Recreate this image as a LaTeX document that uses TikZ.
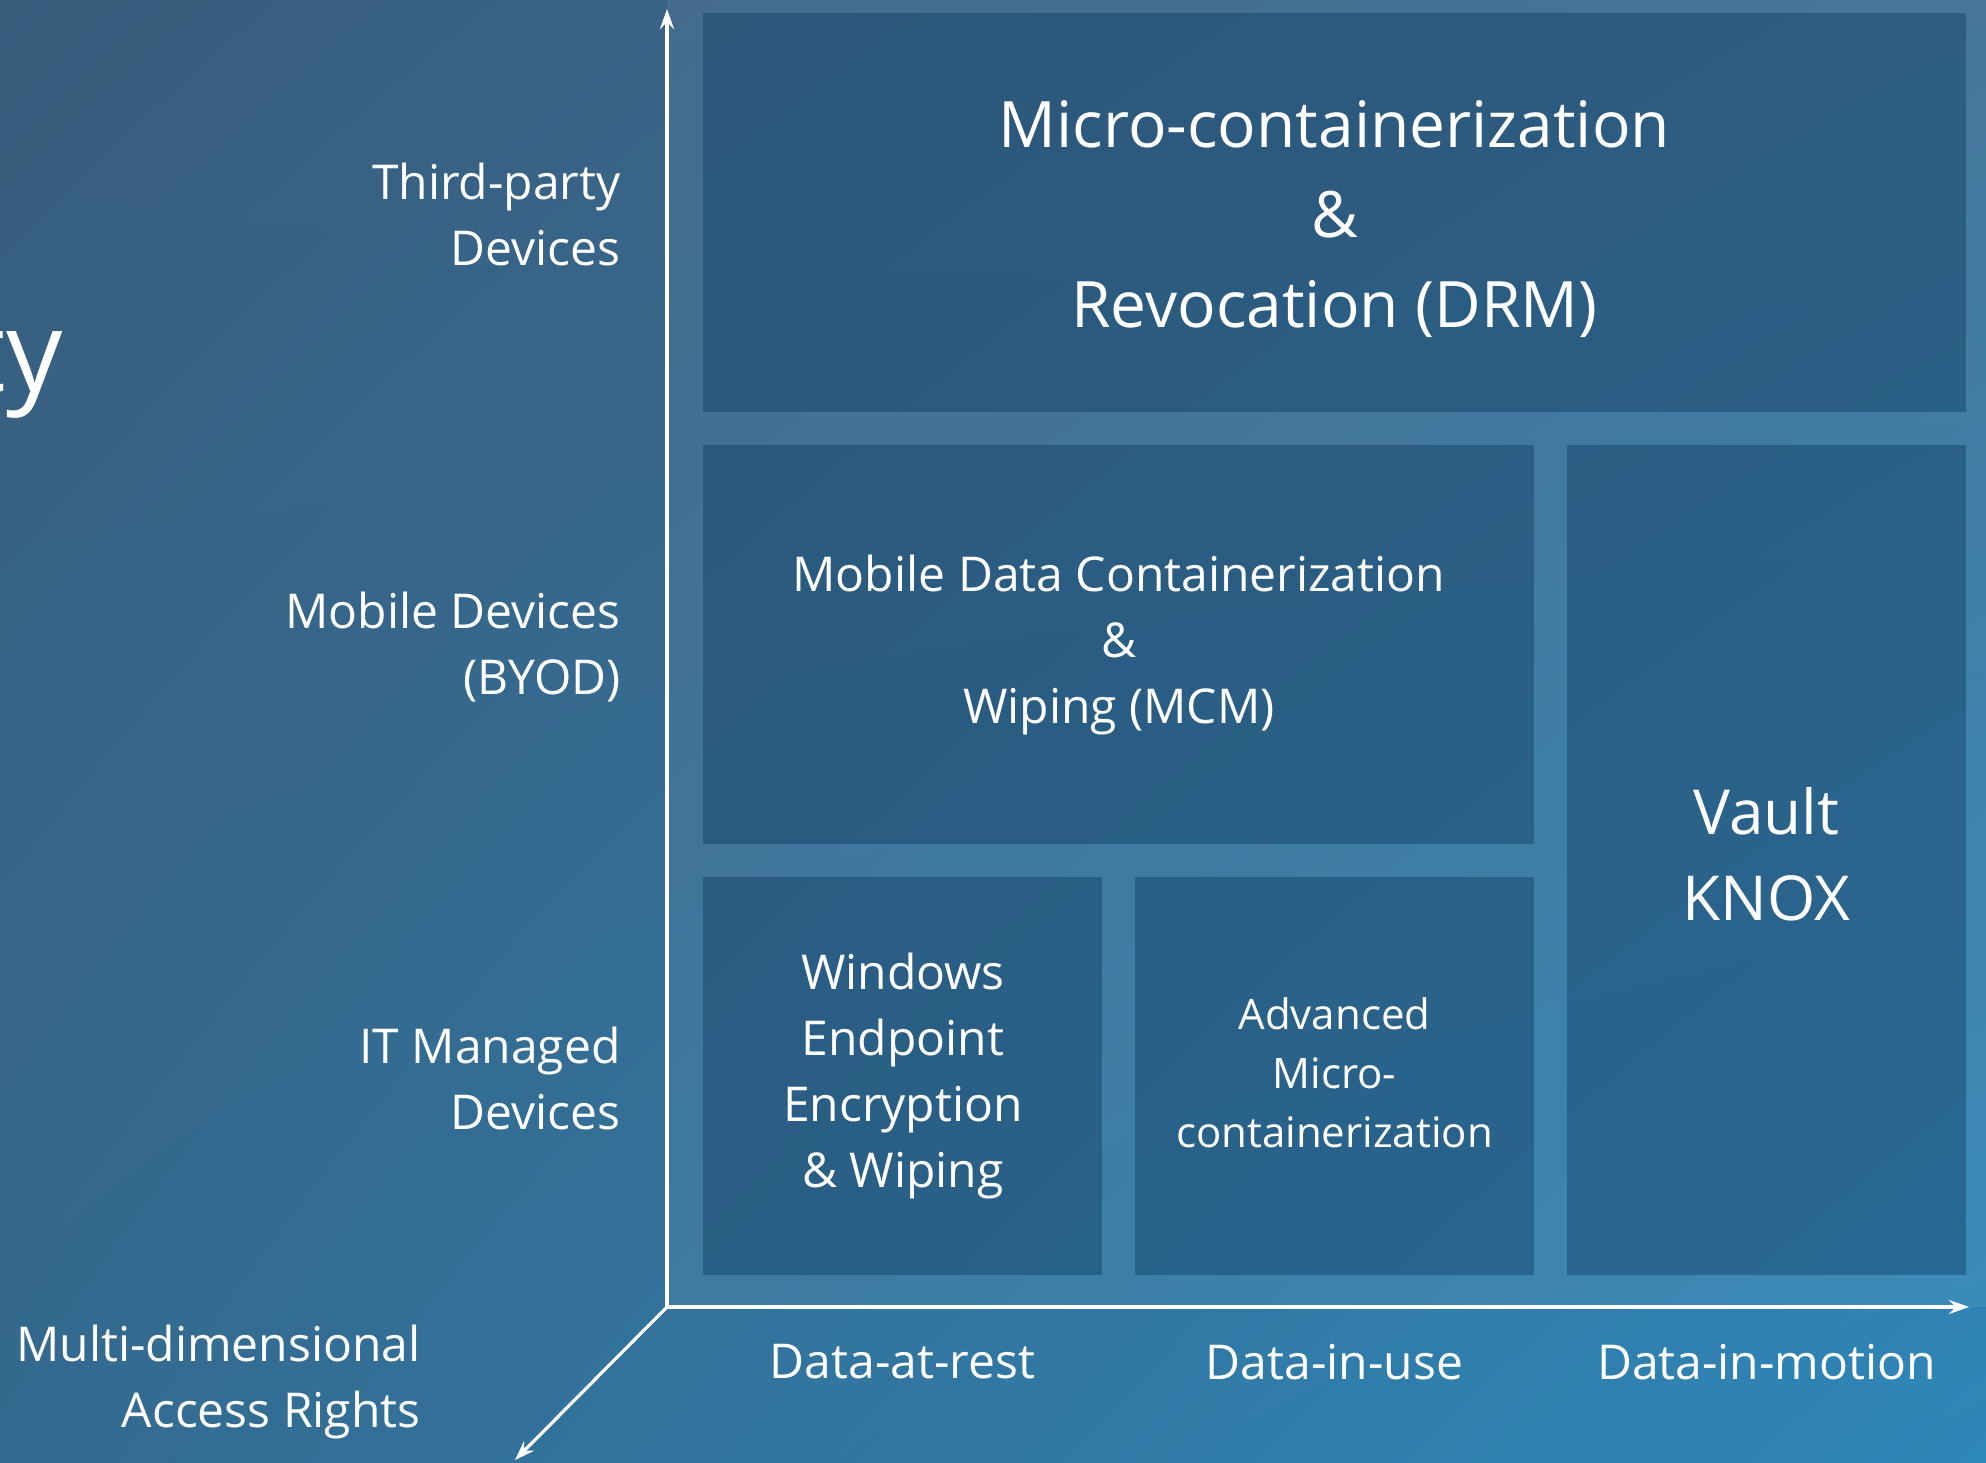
\documentclass[tikz,border=0pt]{standalone}
\usepackage{fontspec}
\setmainfont{Open Sans}
\usetikzlibrary{arrows.meta,shadings}
\definecolor{bgUL}{HTML}{385C7C}
\definecolor{bgUR}{HTML}{3A6E94}
\definecolor{bgLL}{HTML}{346A8F}
\definecolor{bgLR}{HTML}{2E87B9}
\definecolor{boxc}{HTML}{0D3A60}
\tikzset{
  cellfill/.style={fill=boxc, fill opacity=0.42},
  cell/.style={cellfill, text opacity=1, text=white, inner sep=0pt, align=center, anchor=north west},
  celltext/.style={text=white, align=center, inner sep=0pt},
  bigtxt/.style={font=\fontsize{32}{45}\selectfont},
  knoxtxt/.style={font=\fontsize{31}{43}\selectfont},
  midtxt/.style={font=\fontsize{24}{33}\selectfont},
  smalltxt/.style={font=\fontsize{21}{29.5}\selectfont},
  lbl/.style={text=white, inner sep=0pt, font=\fontsize{24}{33}\selectfont},
  axisline/.style={draw=white, line width=1.6pt, -{Stealth[length=10pt, width=7pt, inset=3.5pt]}}
}
\begin{document}
\begin{tikzpicture}[x=0.5pt, y=-0.5pt]
\useasboundingbox (0,0) rectangle (1986,1462);
\shade[upper left=bgUL, upper right=bgUR, lower left=bgLL, lower right=bgLR] (0,0) rectangle (1986,1462);
% lighter panel
\fill[white, opacity=0.06] (667,0) rectangle (1986,1307);

% cells
\node[cell, minimum width=631.5pt, minimum height=199.5pt] (drmbox) at (703,13) {};
\node[celltext, bigtxt] (drm) at (1334.5,219)
  {Micro-containerization\\\&\\Revocation (DRM)};
\node[cell, midtxt, minimum width=415.5pt, minimum height=199.5pt] (mcm) at (703,445)
  {Mobile Data Containerization\\\&\\Wiping (MCM)};
\node[cell, minimum width=199.5pt, minimum height=415pt] (knoxbox) at (1567,445) {};
\node[celltext, knoxtxt] (knox) at (1766.5,854) {Vault\\KNOX};
\node[cell, midtxt, minimum width=199.5pt, minimum height=199pt] (win) at (703,877)
  {Windows\\Endpoint\\Encryption\\\& Wiping};
\node[cell, minimum width=199.5pt, minimum height=199pt] (advbox) at (1135,877) {};
\node[celltext, smalltxt] (adv) at (1334.5,1073) {Advanced\\Micro-\\containerization};

% left labels
\node[lbl, align=right, anchor=east] (third) at (621,214) {Third-party\\Devices};
\node[lbl, align=right, anchor=east] (byod) at (621,647) {Mobile Devices\\(BYOD)};
\node[lbl, align=right, anchor=east] (itm) at (621,1078) {IT Managed\\Devices};
\node[lbl, align=right, anchor=east] (mdar) at (421,1382) {Multi-dimensional\\Access Rights};

% bottom labels
\node[lbl] (rest) at (902.5,1362) {Data-at-rest};
\node[lbl] (use) at (1334.5,1362) {Data-in-use};
\node[lbl] (motion) at (1766.5,1362) {Data-in-motion};

% partial title
\node[text=white, inner sep=0pt, anchor=base east, font=\fontsize{56}{60}\selectfont] (title) at (63,391) {ty};

% axes
\coordinate (O) at (667,1307);
\coordinate (Ytip) at (667,9);
\coordinate (Xtip) at (1969,1307);
\coordinate (Ztip) at (515,1460);
\draw[axisline] (O) -- (Ytip);
\draw[axisline] (O) -- (Xtip);
\draw[axisline] (O) -- (Ztip);
\end{tikzpicture}
\end{document}
